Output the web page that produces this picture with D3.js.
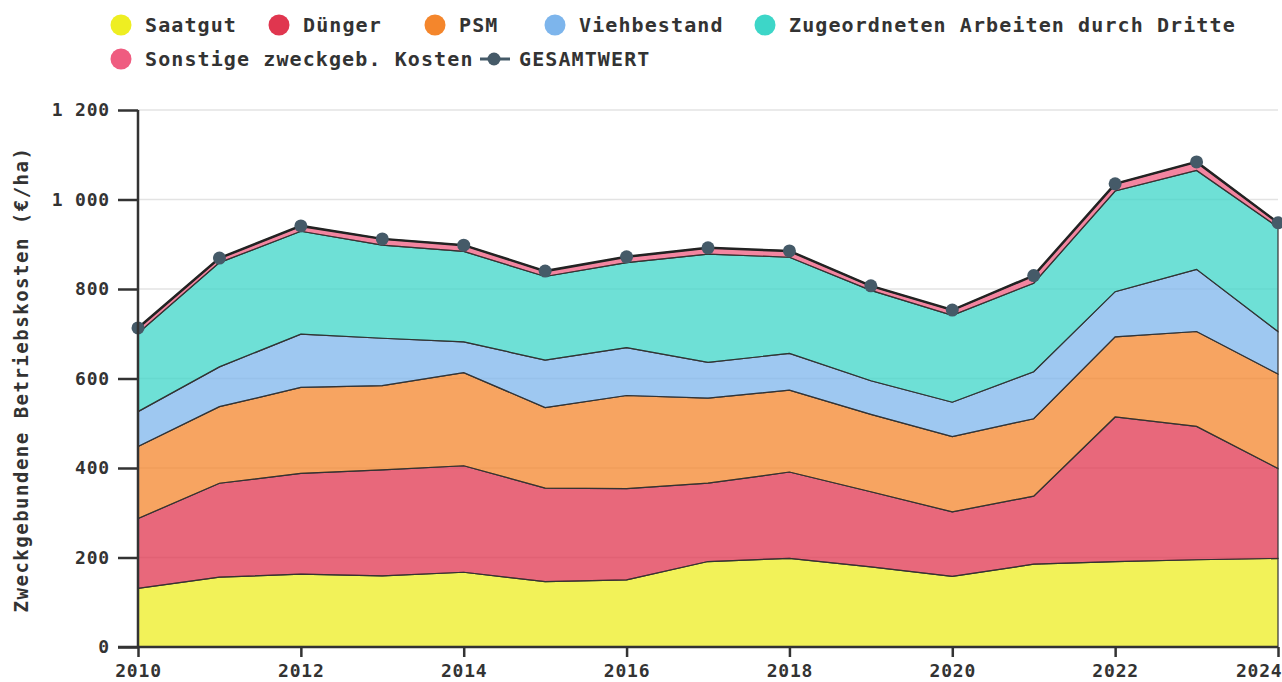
<!DOCTYPE html>
<html>
<head>
<meta charset="utf-8">
<script src="https://cdn.jsdelivr.net/npm/d3@7"></script>
<style>
  body { margin: 0; background: #fff; }
  text { font-family: "DejaVu Sans Mono", monospace; fill: #333; }
  .tick text { font-weight: bold; font-size: 18px; letter-spacing: 0.8px; }
  .legend text { font-size: 20px; letter-spacing: 1.1px; font-weight: bold; }
</style>
</head>
<body>
<div class="chart"></div>
<script>
// Data (EUR/ha)
var years = [2010, 2011, 2012, 2013, 2014, 2015, 2016, 2017, 2018, 2019, 2020, 2021, 2022, 2023, 2024];
var saatgut = [131, 156, 163, 159, 167, 146, 150, 191, 198, 179, 158, 185, 191, 195, 198];
var duenger = [156, 210, 225, 237, 238, 209, 204, 175, 193, 168, 144, 152, 323, 298, 201];
var psm = [161, 171, 192, 188, 208, 180, 208, 190, 183, 173, 168, 173, 179, 212, 211];
var viehbestand = [78, 89, 119, 106, 69, 106, 107, 80, 82, 75, 77, 105, 101, 139, 95];
var zugeordnete = [175, 233, 230, 208, 202, 187, 190, 242, 215, 202, 194, 198, 225, 221, 233];
var sonstige = [12, 10, 12, 14, 14, 12, 13, 14, 14, 10, 12, 17, 16, 19, 10];
var gesamtwert = [713, 869, 941, 912, 898, 840, 872, 892, 885, 807, 753, 830, 1035, 1084, 948];

var seriesNames = ["Saatgut", "Dünger", "PSM", "Viehbestand", "Zugeordneten Arbeiten durch Dritte", "Sonstige zweckgeb. Kosten"];
var seriesValues = [saatgut, duenger, psm, viehbestand, zugeordnete, sonstige];
var seriesColors = ["#eeee22", "#e0364f", "#f4862c", "#7db5ec", "#3dd6c8", "#ef5c80"];
var yTicks = [0, 200, 400, 600, 800, 1000, 1200];
var xTicks = [2010, 2012, 2014, 2016, 2018, 2020, 2022, 2024];

var svgWidth = 1282;
var svgHeight = 682;
var margin = { top: 110, right: 4, bottom: 35, left: 138 };
var width = svgWidth - margin.left - margin.right;
var height = svgHeight - margin.top - margin.bottom;

var svg = d3.select(".chart").append("svg")
  .attr("width", svgWidth)
  .attr("height", svgHeight);

var chart = svg.append("g")
  .attr("transform", "translate(" + margin.left + "," + margin.top + ")");

var xScale = d3.scaleLinear().domain([2010, 2024]).range([0, width]);
var yScale = d3.scaleLinear().domain([0, 1200]).range([height, 0]);

// build rows for the stack
var rows = years.map(function (yr, i) {
  var row = { year: yr };
  seriesNames.forEach(function (name, k) { row[name] = seriesValues[k][i]; });
  return row;
});

var stacked = d3.stack().keys(seriesNames)(rows);

// gridlines
chart.append("g")
  .selectAll("line")
  .data(yTicks.slice(1))
  .enter()
  .append("line")
  .attr("x1", 0)
  .attr("x2", width)
  .attr("y1", function (d) { return yScale(d); })
  .attr("y2", function (d) { return yScale(d); })
  .attr("stroke", "#e3e3e3")
  .attr("stroke-width", 1.5);

var area = d3.area()
  .x(function (d) { return xScale(d.data.year); })
  .y0(function (d) { return yScale(d[0]); })
  .y1(function (d) { return yScale(d[1]); });

chart.append("g")
  .selectAll("path")
  .data(stacked)
  .enter()
  .append("path")
  .attr("d", area)
  .attr("fill", function (d, i) { return seriesColors[i]; })
  .attr("fill-opacity", 0.75)
  .attr("stroke", "#333")
  .attr("stroke-width", 1.2);

// total line with dots
var line = d3.line()
  .x(function (d, i) { return xScale(years[i]); })
  .y(function (d) { return yScale(d); });

chart.append("path")
  .datum(gesamtwert)
  .attr("d", line)
  .attr("fill", "none")
  .attr("stroke", "#222")
  .attr("stroke-width", 2.5);

chart.append("g")
  .selectAll("circle")
  .data(gesamtwert)
  .enter()
  .append("circle")
  .attr("cx", function (d, i) { return xScale(years[i]); })
  .attr("cy", function (d) { return yScale(d); })
  .attr("r", 6.5)
  .attr("fill", "#455a68");

// axes
var yAxis = d3.axisLeft(yScale)
  .tickValues(yTicks)
  .tickSize(20)
  .tickPadding(8)
  .tickFormat(function (d) {
    return d >= 1000 ? Math.floor(d / 1000) + " " + d3.format("03d")(d % 1000) : String(d);
  });

var xAxis = d3.axisBottom(xScale)
  .tickValues(xTicks)
  .tickSize(10)
  .tickPadding(3)
  .tickFormat(d3.format("d"));

var gy = chart.append("g").attr("class", "y-axis").call(yAxis);
var gx = chart.append("g").attr("class", "x-axis")
  .attr("transform", "translate(0," + height + ")")
  .call(xAxis);

[gx, gy].forEach(function (g) {
  g.select(".domain").attr("stroke", "#333").attr("stroke-width", 2.5);
  g.selectAll(".tick line").attr("stroke", "#333").attr("stroke-width", 2.5);
  g.selectAll(".tick text").attr("fill", "#333");
});
gy.select(".domain").attr("d", "M0," + height + "V0");
gx.select(".domain").attr("d", "M-20,0H" + width);
gy.selectAll(".tick text").attr("dy", "0.33em");
gx.selectAll(".tick text").attr("dy", "0.95em");

// keep the last year label inside the svg
gx.selectAll(".tick text")
  .filter(function (d) { return d === xTicks[xTicks.length - 1]; })
  .attr("text-anchor", "end")
  .attr("x", margin.right);

// y-axis title
svg.append("text")
  .attr("transform", "translate(28," + (margin.top + height / 2 + 1) + ") rotate(-90)")
  .attr("text-anchor", "middle")
  .style("font-size", "19px")
  .style("font-weight", "bold")
  .style("letter-spacing", "1.5px")
  .text("Zweckgebundene Betriebskosten (€/ha)");

// legend
var legendPos = [[121, 25], [279, 25], [435, 25], [555, 25], [765, 25], [121, 59]];
var legend = svg.append("g").attr("class", "legend");

seriesNames.forEach(function (name, i) {
  var item = legend.append("g")
    .attr("transform", "translate(" + legendPos[i][0] + "," + legendPos[i][1] + ")");
  item.append("circle").attr("r", 10.5).attr("fill", seriesColors[i]);
  item.append("text").attr("x", 24).attr("dy", "0.35em").text(name);
});

var totalItem = legend.append("g").attr("transform", "translate(494,59)");
totalItem.append("line").attr("x1", -14).attr("x2", 16)
  .attr("stroke", "#455a68").attr("stroke-width", 3);
totalItem.append("circle").attr("r", 6.5).attr("fill", "#455a68");
totalItem.append("text").attr("x", 25).attr("dy", "0.35em").text("GESAMTWERT");
</script>
</body>
</html>
